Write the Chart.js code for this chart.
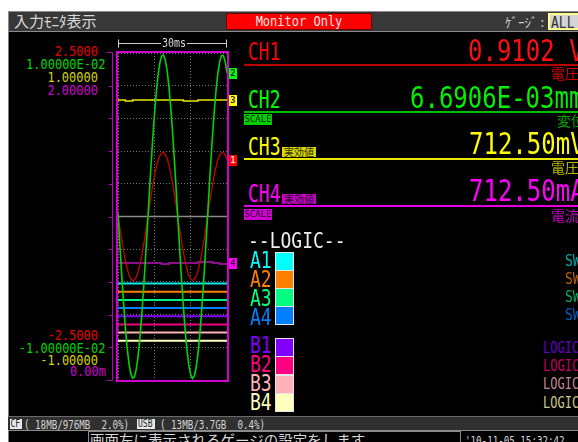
<!DOCTYPE html>
<html>
<head>
<meta charset="utf-8">
<script src="https://cdn.jsdelivr.net/npm/chart.js@4.4.1/dist/chart.umd.min.js"></script>
<style>
    html, body { margin: 0; padding: 0; }
    body { width: 578px; height: 442px; overflow: hidden; position: relative; background: #fff; font-family: "DejaVu Sans Mono", monospace; }
    .abs { position: absolute; box-sizing: border-box; }
    .t { position: absolute; white-space: pre; line-height: 0.8; transform-origin: 0 0; }
    .r { transform-origin: 100% 0; text-align: right; }
    .jp { font-family: "Noto Sans CJK JP", sans-serif; line-height: 1; }
    .lbl { font-size: 12px; transform: scaleY(1.15); }
    .ch { font-size: 18px; transform: scaleY(1.37); left: 248px; }
    .val { font-size: 24px; transform: scaleY(1.26); }
    .unit { font-size: 14px; left: 551px; }
    .badge { position: absolute; font-size: 9px; line-height: 11px; height: 11px; text-align: center; color: #102000; }
    .key { font-size: 18px; transform: scaleY(1.3); left: 250px; }
    .box { position: absolute; left: 275px; width: 19px; height: 19px; border: 1px solid #e4e4e4; box-sizing: border-box; }
    .sw { font-size: 13px; transform: scaleY(1.25); left: 565px; }
    .lg { font-size: 12px; transform: scaleY(1.37); left: 543px; }
    .st { font-size: 9.2px; transform: scaleY(1.3); color: #d4d4d4; }
    #wrap { position: absolute; left: 105px; top: 35px; width: 135px; height: 355px; }
</style>
</head>
<body>
<!-- screen -->
<div class="abs" style="left:8px;top:11px;width:570px;height:431px;background:#000;border-left:1px solid #7a7a7a"></div>

<!-- title bar -->
<div class="abs" style="left:8px;top:11px;width:570px;height:21px;background:#383838;border:1px solid #8c8c8c;border-right:none"></div>
<div class="t jp" style="left:14px;top:12.5px;font-size:15px;color:#d8d8d8">入力ﾓﾆﾀ表示</div>
<div class="abs" style="left:226px;top:13px;width:146px;height:17px;background:#ff0000;border:1px solid #6a0000"></div>
<div class="t" style="left:226px;top:16.9px;width:146px;text-align:center;font-size:12px;color:#ffe4e4;transform:scaleY(1.15)">Monitor Only</div>
<div class="t jp" style="left:505px;top:15px;font-size:13px;color:#d0d0d0">ｹﾞｰｼﾞ :</div>
<div class="abs" style="left:548px;top:13px;width:34px;height:17px;background:#d4d4d4;border:2px solid #ffff90"></div>
<div class="t" style="left:551px;top:16.6px;font-size:13px;color:#303030;transform:scaleY(1.2)">ALL</div>

<!-- left scale labels -->
<div class="t r lbl" style="right:480px;top:46.8px;color:#e00000">2.5000</div>
<div class="t r lbl" style="right:472.5px;top:59.8px;color:#00d000">1.00000E-02</div>
<div class="t r lbl" style="right:480px;top:72.8px;color:#d0d000">1.00000</div>
<div class="t r lbl" style="right:480px;top:85.8px;color:#c800c8">2.00000</div>
<div class="t r lbl" style="right:480px;top:330.8px;color:#e00000">-2.5000</div>
<div class="t r lbl" style="right:472.5px;top:343.8px;color:#00d000">-1.00000E-02</div>
<div class="t r lbl" style="right:480px;top:356.2px;color:#d0d000">-1.00000</div>
<div class="t r lbl" style="right:472px;top:367.4px;color:#c800c8">0.00m</div>

<div id="wrap"><canvas id="scope" width="135" height="355"></canvas></div>
<div class="t" style="left:161px;top:39.2px;padding:0 1px;background:#000;font-size:10px;color:#d8d8d8;transform:scaleY(1.2)">30ms</div>

<!-- channel readouts -->
<div class="t ch" style="top:41.5px;color:#ff0000">CH1</div>
<div class="t val" style="left:468px;top:39.5px;color:#ff1010">0.9102 V</div>
<div class="abs" style="left:244px;top:64px;width:334px;height:2px;background:#b80000"></div>
<div class="t jp unit" style="top:65.5px;color:#d00000">電圧</div>

<div class="t ch" style="top:89.5px;color:#00ff00">CH2</div>
<div class="t val" style="left:410px;top:87px;color:#00f000">6.6906E-03mm</div>
<div class="abs" style="left:244px;top:111px;width:334px;height:2px;background:#00c000"></div>
<div class="badge" style="left:244px;top:114px;width:28px;background:#00d000">SCALE</div>
<div class="t jp unit" style="left:557px;top:112.5px;color:#00a800">変位</div>

<div class="t ch" style="top:136.5px;color:#ffff00">CH3</div>
<div class="badge jp" style="left:282px;top:147px;width:34px;height:10px;line-height:10px;font-size:10px;background:#d8d800;color:#303000">実効値</div>
<div class="t val" style="left:469px;top:132.5px;color:#ffff00">712.50mV</div>
<div class="abs" style="left:244px;top:158px;width:334px;height:2px;background:#e8e800"></div>
<div class="t jp unit" style="top:160px;color:#b8b800">電圧</div>

<div class="t ch" style="top:183.5px;color:#ff00ff">CH4</div>
<div class="badge jp" style="left:282px;top:194px;width:34px;height:10px;line-height:10px;font-size:10px;background:#c800c8;color:#300030">実効値</div>
<div class="t val" style="left:469px;top:180px;color:#ff00ff">712.50mA</div>
<div class="abs" style="left:244px;top:205px;width:334px;height:2px;background:#e000e0"></div>
<div class="badge" style="left:244px;top:209px;width:28px;background:#d000d0;color:#200020">SCALE</div>
<div class="t jp unit" style="top:208px;color:#c000c0">電流</div>

<!-- logic legend -->
<div class="t" style="left:248px;top:231.6px;font-size:18px;color:#f0f0f0;transform:scaleY(1.22)">--LOGIC--</div>
<div class="t key" style="top:250.6px;color:#00ffff">A1</div>
<div class="t key" style="top:269.6px;color:#ff8000">A2</div>
<div class="t key" style="top:288.6px;color:#00ff80">A3</div>
<div class="t key" style="top:307.6px;color:#0080ff">A4</div>
<div class="t key" style="top:335.6px;color:#8000ff">B1</div>
<div class="t key" style="top:354.6px;color:#ff0080">B2</div>
<div class="t key" style="top:373.6px;color:#ffb0b8">B3</div>
<div class="t key" style="top:392.6px;color:#ffffc0">B4</div>
<div class="box" style="top:252px;background:#00ffff"></div>
<div class="box" style="top:270px;background:#ff8000"></div>
<div class="box" style="top:288px;background:#00ff80"></div>
<div class="box" style="top:306px;background:#0080ff"></div>
<div class="box" style="top:338px;background:#8000ff"></div>
<div class="box" style="top:356px;background:#ff0080"></div>
<div class="box" style="top:375px;background:#ffb0b8"></div>
<div class="box" style="top:393px;background:#ffffc0"></div>
<div class="t sw" style="top:254.6px;color:#00a8a8">SW</div>
<div class="t sw" style="top:272.6px;color:#c06000">SW</div>
<div class="t sw" style="top:290.6px;color:#00b060">SW</div>
<div class="t sw" style="top:308.6px;color:#0060c0">SW</div>
<div class="t lg" style="top:342px;color:#6000c0">LOGIC</div>
<div class="t lg" style="top:360px;color:#c00060">LOGIC</div>
<div class="t lg" style="top:378px;color:#c08890">LOGIC</div>
<div class="t lg" style="top:397px;color:#c8c890">LOGIC</div>

<!-- status bar -->
<div class="abs" style="left:8px;top:416px;width:570px;height:15px;background:#303030;border-top:1px solid #6a6a6a;border-bottom:1px solid #8a8a8a"></div>
<div class="abs" style="left:10px;top:419px;width:12px;height:10px;background:#e8e8e8"></div>
<div class="t st" style="left:10.5px;top:420px;color:#202020;font-size:8px">CF</div>
<div class="t st" style="left:24px;top:419.7px">( 18MB/976MB  2.0%)</div>
<div class="abs" style="left:137px;top:419px;width:18px;height:10px;background:#e8e8e8"></div>
<div class="t st" style="left:138px;top:420px;color:#202020;font-size:8px">USB</div>
<div class="t st" style="left:160px;top:419.7px">( 13MB/3.7GB  0.4%)</div>
<div class="abs" style="left:88px;top:431px;width:373px;height:14px;border:1px solid #8a8a8a"></div>
<div class="t jp" style="left:90px;top:432.5px;font-size:14.5px;color:#d8d8d8">画面左に表示されるゲージの設定をします</div>
<div class="t st" style="left:465px;top:435.7px">'10-11-05 15:32:42</div>

<script>
// ---- time base (ms) and channel samples ----
const TIME_MS = [0, 0.5, 1, 1.5, 2, 2.5, 3, 3.5, 4, 4.5, 5, 5.5, 6, 6.5, 7, 7.5, 8, 8.5, 9, 9.5,
    10, 10.5, 11, 11.5, 12, 12.5, 13, 13.5, 14, 14.5, 15, 15.5, 16, 16.5, 17, 17.5, 18, 18.5, 19, 19.5,
    20, 20.5, 21, 21.5, 22, 22.5, 23, 23.5, 24, 24.5, 25, 25.5, 26, 26.5, 27, 27.5, 28, 28.5, 29, 29.5, 30];

// CH1 voltage (V)
const CH1_V = [0.019, -0.169, -0.349, -0.516, -0.665, -0.791, -0.887, -0.950, -0.978, -0.971,
    -0.928, -0.852, -0.744, -0.609, -0.452, -0.277, -0.094, 0.094, 0.278, 0.452,
    0.609, 0.744, 0.852, 0.928, 0.971, 0.978, 0.950, 0.886, 0.791, 0.665,
    0.516, 0.349, 0.168, -0.019, -0.205, -0.384, -0.549, -0.693, -0.812, -0.902,
    -0.958, -0.980, -0.965, -0.915, -0.833, -0.718, -0.579, -0.417, -0.241, -0.056,
    0.131, 0.314, 0.485, 0.638, 0.767, 0.870, 0.940, 0.975, 0.975, 0.940, 0.869];

// CH2 displacement (mm)
const CH2_MM = [0.00019, -0.00170, -0.00352, -0.00522, -0.00672, -0.00799, -0.00896, -0.00959, -0.00988, -0.00981,
    -0.00938, -0.00860, -0.00751, -0.00615, -0.00456, -0.00280, -0.00095, 0.00095, 0.00281, 0.00456,
    0.00615, 0.00751, 0.00860, 0.00938, 0.00981, 0.00988, 0.00959, 0.00895, 0.00799, 0.00672,
    0.00522, 0.00352, 0.00169, -0.00019, -0.00207, -0.00388, -0.00554, -0.00700, -0.00821, -0.00911,
    -0.00968, -0.00990, -0.00975, -0.00925, -0.00842, -0.00726, -0.00585, -0.00422, -0.00244, -0.00056,
    0.00133, 0.00317, 0.00490, 0.00644, 0.00775, 0.00879, 0.00949, 0.00985, 0.00985, 0.00949, 0.00878];

// CH3 / CH4 rms values (slow), sampled every 2 ms
const RMS_T = [0, 2, 4, 6, 8, 10, 12, 14, 16, 18, 20, 22, 24, 26, 28, 30];
const CH3_V = [0.712, 0.706, 0.712, 0.712, 0.712, 0.712, 0.712, 0.712, 0.712, 0.706, 0.706, 0.712, 0.712, 0.712, 0.712, 0.712];
const CH4_A = [0.716, 0.716, 0.716, 0.716, 0.716, 0.716, 0.710, 0.716, 0.716, 0.716, 0.716, 0.722, 0.722, 0.716, 0.710, 0.716];

// gauge ranges (bottom, top) per channel
const CH1_RANGE = [-2.5, 2.5];
const CH2_RANGE = [-0.01, 0.01];
const CH3_RANGE = [-1, 1];
const CH4_RANGE = [0, 2];

// logic channels: all low, drawn at their trace position (in divisions)
const LOGIC_NAMES = ['A1', 'A2', 'A3', 'A4', 'B1', 'B2', 'B3', 'B4'];
const LOGIC_COLORS = ['#10e8e8', '#ff8000', '#00f080', '#0080ff', '#8000ff', '#f00080', '#ffb4b4', '#ffffc0'];
const LOGIC_POS_DIV = [2.95, 2.70, 2.45, 2.20, 1.95, 1.70, 1.45, 1.20];
const LOGIC_T = [0, 30];
const CENTER_DIV = 5;

const pts = (xs, ys) => xs.map((x, i) => ({ x, y: ys[i] }));

const waveSet = (label, data, axis, color, width) => ({
    label, data, yAxisID: axis, borderColor: color, borderWidth: width,
    pointRadius: 0, tension: 0, fill: false
});

const datasets = [
    waveSet('CH2', pts(TIME_MS, CH2_MM), 'y2', '#00d400', 1.6),
    waveSet('CH1', pts(TIME_MS, CH1_V), 'y1', '#d00000', 1.2),
    Object.assign(waveSet('CH3', pts(RMS_T, CH3_V), 'y3', '#e8e800', 1.5), { stepped: true }),
    Object.assign(waveSet('CH4', pts(RMS_T, CH4_A), 'y4', '#8a108a', 2), { stepped: true }),
    waveSet('center', pts(LOGIC_T, LOGIC_T.map(() => CENTER_DIV)), 'div', '#8c8c8c', 1.5)
];
LOGIC_NAMES.forEach((name, i) => {
    datasets.push(waveSet(name, pts(LOGIC_T, LOGIC_T.map(() => LOGIC_POS_DIV[i])), 'div', LOGIC_COLORS[i], 2));
});

// markers at right edge: dataset index, label, colours
const MARKS = [
    { ds: 0, text: '2', bg: '#00ff00', fg: '#003000' },
    { ds: 2, text: '3', bg: '#ffff00', fg: '#303000' },
    { ds: 1, text: '1', bg: '#ff0000', fg: '#ffd0d0' },
    { ds: 3, text: '4', bg: '#ff00ff', fg: '#400040' }
];

const scopeDecor = {
    id: 'scopeDecor',
    afterDatasetsDraw(chart) {
        const { ctx, chartArea: a, scales } = chart;
        ctx.save();

        // frame
        ctx.strokeStyle = '#d000d0';
        ctx.lineWidth = 2;
        ctx.strokeRect(a.left - 1, a.top - 1, a.right - a.left + 2, a.bottom - a.top + 2);

        // gauge bracket on the left
        const bx = a.left - 5.5;
        ctx.lineWidth = 1;
        ctx.strokeStyle = '#b800b8';
        ctx.beginPath();
        ctx.moveTo(a.left - 11, a.top - 0.5);
        ctx.lineTo(bx, a.top - 0.5);
        ctx.lineTo(bx, a.bottom + 0.5);
        ctx.lineTo(a.left - 11, a.bottom + 0.5);
        for (let d = 1; d < 10; d++) {
            const y = Math.round(scales.div.getPixelForValue(d)) + 0.5;
            ctx.moveTo(a.left - 9, y);
            ctx.lineTo(bx, y);
        }
        ctx.stroke();

        // time span bar
        const ty = a.top - 9.5;
        ctx.strokeStyle = '#cccccc';
        ctx.beginPath();
        ctx.moveTo(a.left + 0.5, ty);
        ctx.lineTo(a.right - 0.5, ty);
        ctx.moveTo(a.left + 0.5, ty - 4);
        ctx.lineTo(a.left + 0.5, ty + 4);
        ctx.moveTo(a.right - 0.5, ty - 4);
        ctx.lineTo(a.right - 0.5, ty + 4);
        ctx.stroke();

        // channel markers
        ctx.font = 'bold 9px "DejaVu Sans Mono"';
        ctx.textAlign = 'center';
        ctx.textBaseline = 'middle';
        MARKS.forEach(m => {
            const els = chart.getDatasetMeta(m.ds).data;
            const y = Math.round(els[els.length - 1].y);
            ctx.fillStyle = m.bg;
            ctx.fillRect(a.right + 2, y - 5, 8, 11);
            ctx.fillStyle = m.fg;
            ctx.fillText(m.text, a.right + 6, y + 0.5);
        });
        ctx.restore();
    }
};

const hiddenY = (range) => ({ display: false, min: range[0], max: range[1] });
const gridStyle = { color: '#767676', drawTicks: false };

new Chart(document.getElementById('scope'), {
    type: 'line',
    data: { datasets },
    options: {
        responsive: false,
        animation: false,
        devicePixelRatio: 1,
        events: [],
        layout: { padding: { left: 13, right: 13, top: 18, bottom: 10 } },
        plugins: { legend: { display: false }, tooltip: { enabled: false } },
        scales: {
            x: {
                type: 'linear', min: 0, max: 30,
                ticks: { display: false, stepSize: 10 },
                grid: gridStyle,
                border: { display: false, dash: [1, 2] },
                afterFit: s => { s.height = 0; }
            },
            div: {
                position: 'left', min: 0, max: 10,
                ticks: { display: false, stepSize: 1 },
                grid: gridStyle,
                border: { display: false, dash: [1, 2] },
                afterFit: s => { s.width = 0; }
            },
            y1: hiddenY(CH1_RANGE),
            y2: hiddenY(CH2_RANGE),
            y3: hiddenY(CH3_RANGE),
            y4: hiddenY(CH4_RANGE)
        }
    },
    plugins: [scopeDecor]
});
</script>
</body>
</html>
